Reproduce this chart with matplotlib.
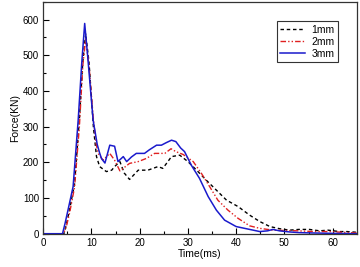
import matplotlib
matplotlib.use("Agg")
import matplotlib.pyplot as plt
from matplotlib.ticker import MultipleLocator

plt.rcParams['font.family'] = ['Liberation Sans', 'DejaVu Sans']

t_1mm = [0, 4.3, 4.8, 5.5, 6.5, 7.5, 8.2, 8.8, 9.5, 10.4, 11.05, 11.7, 13.1, 14.2, 14.8, 15.9, 16.8, 17.9, 19.7, 21.7,
         23.8, 24.8, 26.6, 28.3, 30, 31.8, 33.8, 35.9, 38, 40.4, 42.8, 44.9, 47, 49, 51.1, 53, 55.2, 57.3, 59, 61.4, 63, 65]
f_1mm = [0, 0, 25, 70, 140, 320, 480, 560, 480, 300, 216, 188, 174, 178, 188, 202, 170, 152, 178, 178,
         188, 183, 216, 220, 202, 178, 150, 122, 94, 76, 52, 34, 20, 14, 10, 12, 12, 8, 10, 6, 6, 4]

t_2mm = [0, 4.2, 4.8, 5.5, 6.5, 7.5, 8.2, 8.8, 9.5, 10.4, 11.0, 11.4, 12.4, 13.8, 14.8, 15.9, 17.9, 19.7, 21.4, 23.1,
         25.2, 26.5, 27.5, 29, 31.1, 32.8, 34.5, 36.2, 38.3, 40.4, 42.8, 44.9, 47.6, 50, 53, 56, 59.4, 62, 65]
f_2mm = [0, 0, 20, 60, 130, 300, 470, 545, 470, 320, 250, 225, 206, 225, 206, 176, 197, 202, 211, 225,
         225, 238, 230, 222, 202, 169, 132, 94, 66, 43, 22, 15, 10, 9, 8, 6, 6, 4, 2]

t_3mm = [0, 4.0, 4.5, 5.2, 6.2, 7.25, 8.0, 8.6, 9.2, 10.35, 10.7, 11.2, 11.7, 12.1, 12.8, 13.8, 14.8, 15.5, 16.6, 17.3,
         18.3, 19.3, 21, 22, 23.5, 24.5, 25.5, 26.6, 27.5, 28.5, 29.3, 30.7, 32.4, 34.2, 35.9, 37.6, 40, 42.8, 44.9,
         46.5, 47.6, 49, 51, 53.1, 56, 60, 65]
f_3mm = [0, 0, 27, 70, 132, 318, 480, 589, 500, 318, 290, 250, 226, 210, 198, 248, 245, 202, 216, 202,
         215, 225, 225, 235, 248, 248, 255, 262, 258, 240, 230, 192, 155, 104, 66, 38, 20, 12, 6,
         8, 12, 8, 5, 3, 2, 1, 0]

labels = ['1mm', '2mm', '3mm']

fig = plt.figure(figsize=(3.6, 2.67), dpi=100)
ax = fig.add_axes([0.120, 0.1247, 0.871, 0.869])

ax.plot(t_1mm, f_1mm, color='black', lw=1.0, linestyle=(0, (2.5, 2)), label=labels[0])
ax.plot(t_2mm, f_2mm, color='#e02020', lw=1.0, linestyle=(0, (4, 1.5, 1, 1.5, 1, 1.5)), label=labels[1])
ax.plot(t_3mm, f_3mm, color='#1a1acc', lw=1.1, linestyle='-', label=labels[2])

ax.set_xlim(0, 65)
ax.set_ylim(0, 650)
ax.xaxis.set_major_locator(MultipleLocator(10))
ax.xaxis.set_minor_locator(MultipleLocator(5))
ax.yaxis.set_major_locator(MultipleLocator(100))
ax.yaxis.set_minor_locator(MultipleLocator(50))
ax.tick_params(which='both', direction='in', top=False, right=False, labelsize=7, pad=3)
ax.tick_params(which='major', length=4, width=0.8)
ax.tick_params(which='minor', length=2, width=0.8)
for s in ax.spines.values():
    s.set_linewidth(0.9)
    s.set_color('#333333')

ax.set_xlabel('Time(ms)', fontsize=7.5, labelpad=1)
ax.set_ylabel('Force(KN)', fontsize=7.5, labelpad=2)

leg = ax.legend(loc='upper right', bbox_to_anchor=(0.94, 0.915), fontsize=7.5, frameon=True, fancybox=False,
                edgecolor='#333333', framealpha=1, handlelength=2.4, handletextpad=0.6, borderpad=0.3,
                labelspacing=0.2, borderaxespad=0)
leg.get_frame().set_linewidth(0.8)

fig.savefig('out.png', dpi=100)
